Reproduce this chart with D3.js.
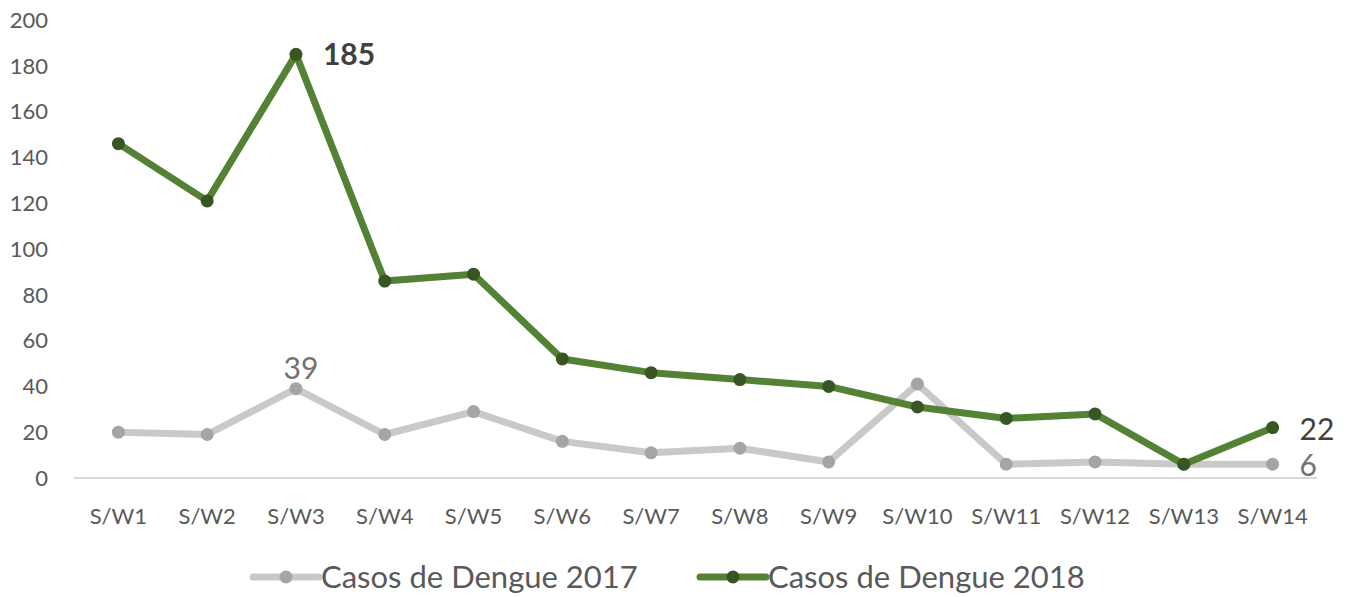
<!DOCTYPE html>
<html>
<head>
<meta charset="utf-8">
<script src="https://cdn.jsdelivr.net/npm/d3@7"></script>
<style>
  body { margin: 0; background: #fff; }
  svg text { font-family: Lato, "Open Sans", sans-serif; }
</style>
</head>
<body>
<svg id="chart" width="1347" height="597"></svg>
<script>
// Weekly dengue cases
const weeks = ['S/W1','S/W2','S/W3','S/W4','S/W5','S/W6','S/W7','S/W8','S/W9','S/W10','S/W11','S/W12','S/W13','S/W14'];
const cases2017 = [20, 19, 39, 19, 29, 16, 11, 13, 7, 41, 6, 7, 6, 6];
const cases2018 = [146, 121, 185, 86, 89, 52, 46, 43, 40, 31, 26, 28, 6, 22];
const yTicks = [0, 20, 40, 60, 80, 100, 120, 140, 160, 180, 200];

const series = [
  { name: 'Casos de Dengue 2017', values: cases2017, line: '#c9c9c9', dot: '#a5a5a5' },
  { name: 'Casos de Dengue 2018', values: cases2018, line: '#548235', dot: '#375623' },
];

const svg = d3.select('#chart');
const margin = { top: 20, right: 30, bottom: 119, left: 74 };
const W = 1347, H = 597;

const x = d3.scaleBand().domain(weeks).range([margin.left, W - margin.right]);
const y = d3.scaleLinear().domain([0, 200]).range([H - margin.bottom, margin.top]);
const cx = d => x(d) + x.bandwidth() / 2;

// y labels (no gridlines)
svg.append('g').selectAll('text')
  .data(yTicks)
  .join('text')
  .attr('x', 48).attr('y', d => y(d))
  .attr('dy', '0.35em')
  .attr('text-anchor', 'end')
  .attr('font-size', 22)
  .attr('fill', '#595959')
  .text(d => d);

// baseline
svg.append('line')
  .attr('x1', margin.left).attr('x2', W - margin.right)
  .attr('y1', y(0)).attr('y2', y(0))
  .attr('stroke', '#d9d9d9').attr('stroke-width', 2);

// x labels
svg.append('g').selectAll('text')
  .data(weeks)
  .join('text')
  .attr('x', d => cx(d)).attr('y', 524)
  .attr('text-anchor', 'middle')
  .attr('font-size', 22)
  .attr('fill', '#595959')
  .text(d => d);

const line = d3.line()
  .x((d, i) => cx(weeks[i]))
  .y(d => y(d));

series.forEach(s => {
  svg.append('path')
    .datum(s.values)
    .attr('d', line)
    .attr('fill', 'none')
    .attr('stroke', s.line)
    .attr('stroke-width', 7)
    .attr('stroke-linejoin', 'round');
  svg.append('g').selectAll('circle')
    .data(s.values)
    .join('circle')
    .attr('cx', (d, i) => cx(weeks[i]))
    .attr('cy', d => y(d))
    .attr('r', 6.5)
    .attr('fill', s.dot);
});

// data labels
const lab = (txt, xx, yy, color, weight, anchor) =>
  svg.append('text').attr('x', xx).attr('y', yy)
    .attr('font-size', 30).attr('font-weight', weight)
    .attr('fill', color).attr('text-anchor', anchor || 'start').text(txt);

lab(cases2018[2], cx(weeks[2]) + 27, y(cases2018[2]) + 11, '#404040', 700);
lab(cases2017[2], cx(weeks[2]) + 5, y(cases2017[2]) - 10, '#767171', 400, 'middle');
lab(cases2018[13], cx(weeks[13]) + 27, y(cases2018[13]) + 12, '#404040', 400);
lab(cases2017[13], cx(weeks[13]) + 27, y(cases2017[13]) + 12, '#767171', 400);

// legend
const legend = svg.append('g');
const legendX = [253, 700];
series.forEach((s, i) => {
  const g = legend.append('g').attr('transform', `translate(${legendX[i]},577)`);
  g.append('line').attr('x1', 0).attr('x2', 66).attr('y1', 0).attr('y2', 0)
    .attr('stroke', s.line).attr('stroke-width', 7).attr('stroke-linecap', 'round');
  g.append('circle').attr('cx', 33).attr('cy', 0).attr('r', 6.5).attr('fill', s.dot);
  g.append('text').attr('x', 68).attr('y', 0).attr('dy', '0.35em')
    .attr('font-size', 31).attr('fill', '#595959').text(s.name);
});
</script>
</body>
</html>
